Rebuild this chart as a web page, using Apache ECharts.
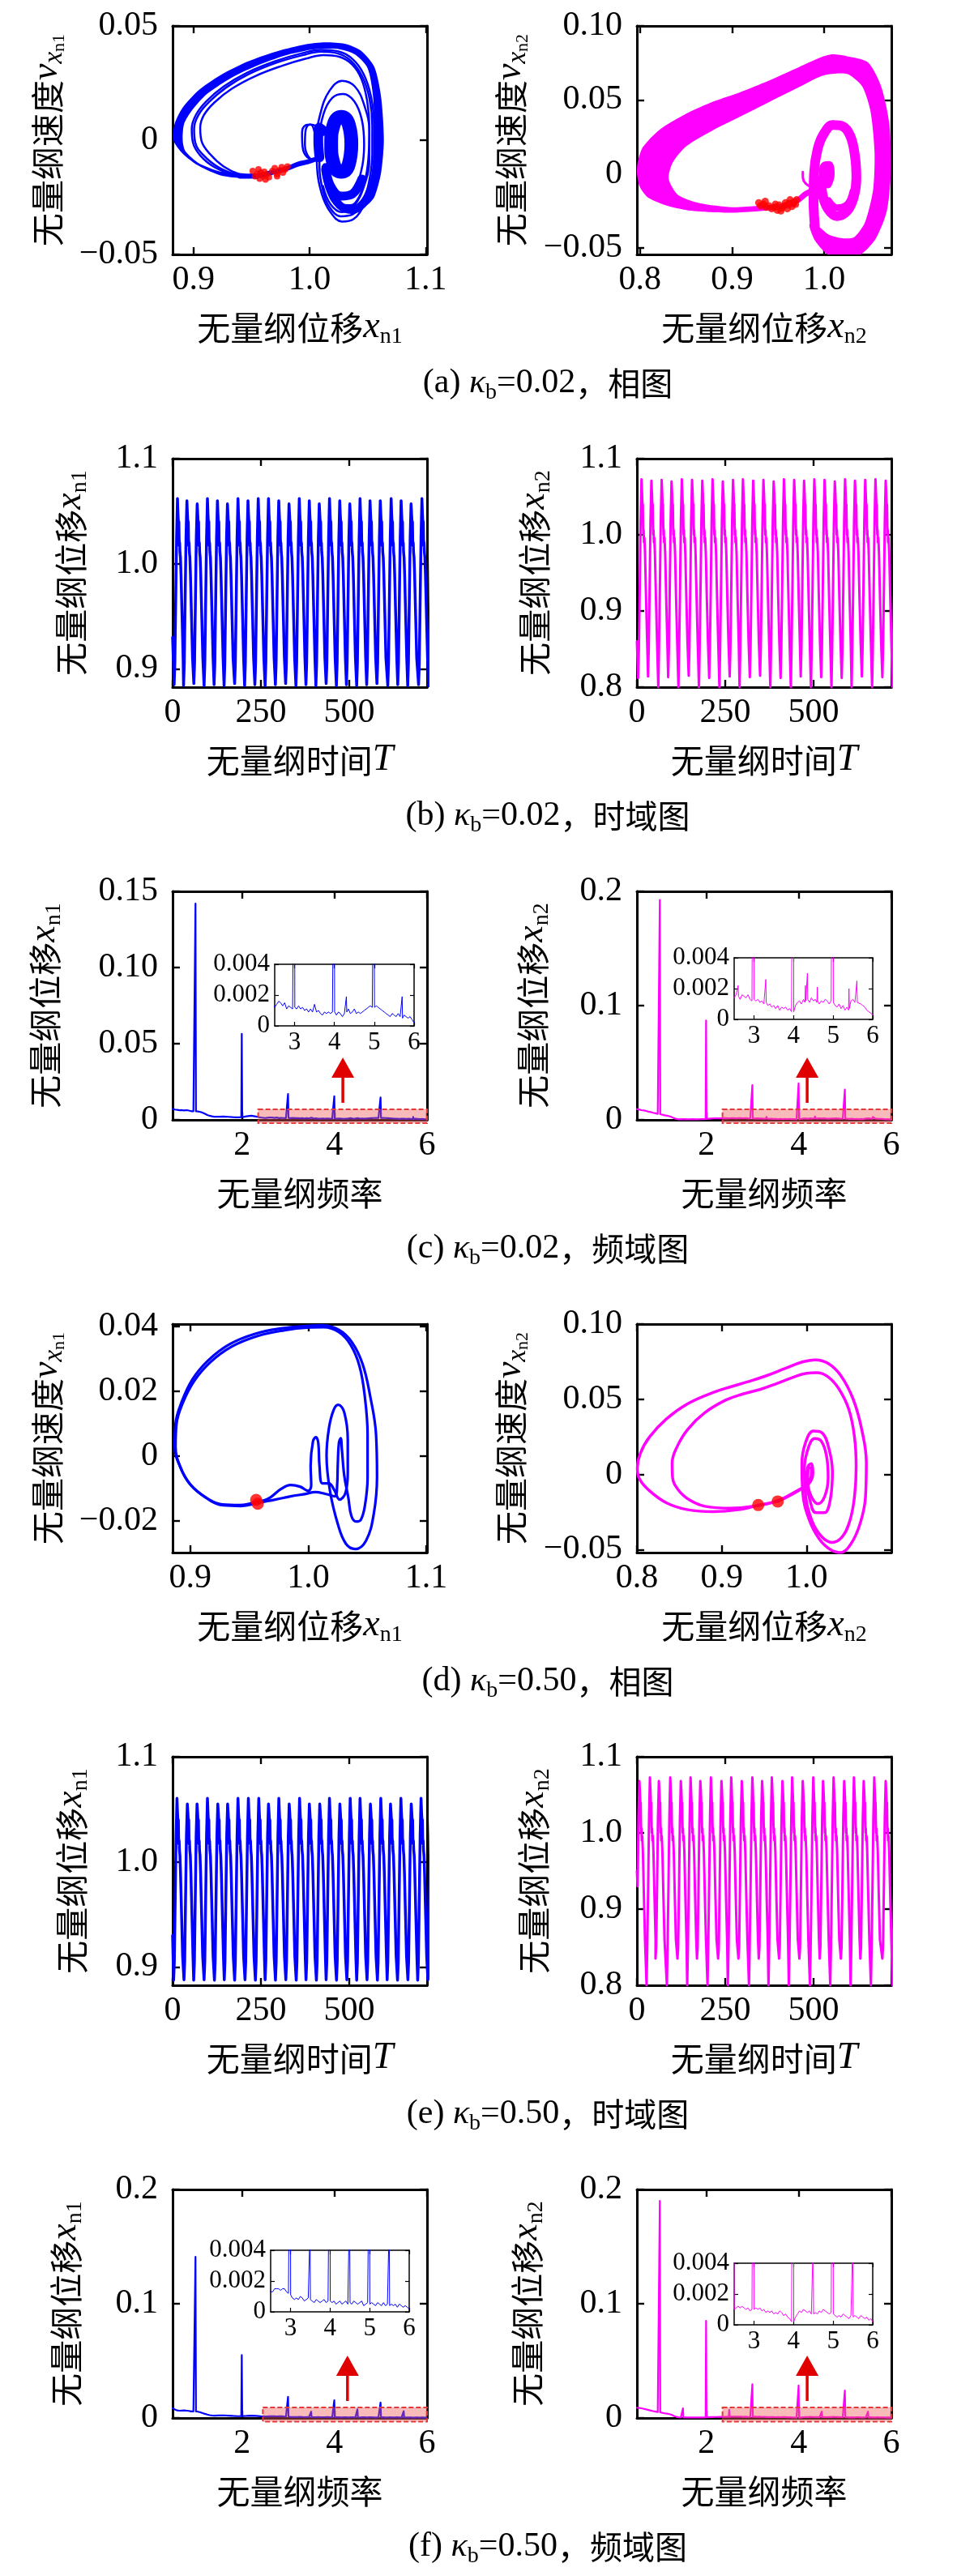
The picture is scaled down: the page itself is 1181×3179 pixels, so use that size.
<!DOCTYPE html>
<html><head><meta charset="utf-8">
<script src="https://cdn.jsdelivr.net/npm/echarts@6.0.0/dist/echarts.min.js"></script>
<style>html,body{margin:0;padding:0;background:#fff}#c{width:1181px;height:3179px}</style>
</head><body><div id="c"></div>
<script>
// ---------------- DATA ----------------
// (a) kb=0.02 phase portrait, x_n1
const a1BandOuter = [[0.9465,-0.0166],[0.9233,-0.0154],[0.9047,-0.0113],[0.8907,-0.0059],[0.8826,0.0],[0.8837,0.0071],[0.8907,0.0143],[0.9047,0.022],[0.9233,0.0285],[0.9465,0.0344],[0.9698,0.0386],[0.993,0.0416],[1.0116,0.0428],[1.0302,0.0422],[1.0442,0.0392],[1.0558,0.0321],[1.0616,0.019],[1.064,0.0],[1.0616,-0.0143],[1.0558,-0.0249],[1.0488,-0.0285]];
const a1BandInner = [[1.0488,-0.0226],[1.054,-0.0143],[1.0558,0.0],[1.0547,0.019],[1.05,0.0315],[1.0395,0.0374],[1.0256,0.0398],[1.0047,0.0398],[0.9814,0.0374],[0.9581,0.0333],[0.9349,0.0279],[0.9116,0.0202],[0.8988,0.0131],[0.8919,0.0071],[0.8907,0.0],[0.893,-0.0048],[0.9047,-0.0101],[0.9233,-0.0137],[0.9465,-0.0148]];
const a1BandEnd = [[1.053,-0.021],[1.046,-0.0278],[1.036,-0.0305],[1.026,-0.0285],[1.018,-0.022],[1.0135,-0.013]];
const a1LowArc = [[1.014,-0.012],[1.018,-0.02],[1.027,-0.0245],[1.037,-0.0235],[1.045,-0.017]];
const a1Tail = [[0.94,-0.0158],[0.955,-0.0155],[0.966,-0.0143],[0.98,-0.0125],[0.99,-0.0105],[0.998,-0.0095],[1.004,-0.0085]];
const a1Small1 = [[1.006,-0.0085],[0.998,-0.0075],[0.994,-0.003],[0.9935,0.003],[0.9965,0.0065],[1.001,0.0068],[1.0045,0.003],[1.006,-0.003],[1.008,-0.008]];
const a1Small2 = [[1.008,-0.009],[1.0,-0.0078],[0.996,-0.002],[0.9965,0.004],[1.0,0.0068],[1.005,0.0062],[1.008,0.001]];
const a1Blob = [[1.0085,-0.0075],[1.0075,0.0],[1.0085,0.0055],[1.012,0.004]];
const a1Ring = [[1.036,-0.0016],[1.0338,0.0068],[1.0273,0.0102],[1.0208,0.0068],[1.0186,-0.0016],[1.0208,-0.0105],[1.0273,-0.0138],[1.0338,-0.0105],[1.036,-0.0016]];
const a1Thin1 = [[0.955,-0.0163],[0.935,-0.0152],[0.918,-0.0118],[0.906,-0.0068],[0.8995,-0.001],[0.8985,0.005],[0.902,0.011],[0.911,0.017],[0.926,0.0235],[0.946,0.0295],[0.97,0.0345],[0.993,0.038],[1.01,0.0395],[1.025,0.0388],[1.037,0.0355],[1.0465,0.029],[1.053,0.019],[1.0555,0.007],[1.0555,-0.006],[1.053,-0.018],[1.047,-0.028],[1.038,-0.0345],[1.028,-0.0356],[1.018,-0.0315],[1.0105,-0.0235],[1.0065,-0.0125],[1.006,0.0],[1.0095,0.012],[1.017,0.0215],[1.028,0.026],[1.039,0.0235],[1.047,0.0155],[1.0515,0.004],[1.0515,-0.0085],[1.047,-0.02],[1.0385,-0.0285],[1.028,-0.0315],[1.018,-0.028],[1.0115,-0.02]];
const a1Thin2 = [[0.955,-0.0165],[0.938,-0.0152],[0.922,-0.012],[0.909,-0.0068],[0.9015,-0.001],[0.9005,0.005],[0.904,0.0108],[0.913,0.0165],[0.928,0.023],[0.948,0.029],[0.972,0.034],[0.994,0.0372],[1.01,0.0387],[1.024,0.038],[1.0355,0.0348],[1.045,0.0283],[1.0515,0.0185],[1.054,0.0065],[1.054,-0.006],[1.0515,-0.0175],[1.046,-0.027],[1.037,-0.0325],[1.027,-0.0333],[1.0175,-0.0295],[1.0115,-0.022],[1.0085,-0.0115],[1.0085,0.0005],[1.012,0.0115],[1.0195,0.0185],[1.029,0.0202],[1.0385,0.017],[1.045,0.009],[1.047,-0.002],[1.0445,-0.0135],[1.0375,-0.022],[1.0275,-0.025]];
const a1Thin3 = [[0.955,-0.0165],[0.94,-0.015],[0.926,-0.0115],[0.9145,-0.0062],[0.907,-0.0005],[0.9058,0.0055],[0.909,0.011],[0.918,0.0165],[0.933,0.0225],[0.953,0.028],[0.976,0.0325],[0.997,0.0357],[1.012,0.0372],[1.0255,0.0365],[1.0365,0.0332],[1.0445,0.027],[1.0495,0.0175],[1.0515,0.006],[1.051,-0.0055],[1.0485,-0.016],[1.043,-0.0245],[1.0355,-0.0285],[1.027,-0.028],[1.0195,-0.0235]];
const a1Red = [[0.951,-0.0135],[0.953,-0.0158],[0.955,-0.0148],[0.957,-0.0168],[0.958,-0.0142],[0.96,-0.0158],[0.962,-0.0172],[0.963,-0.015],[0.965,-0.0162],[0.968,-0.0135],[0.97,-0.0122],[0.972,-0.0148],[0.974,-0.0132],[0.976,-0.0118],[0.977,-0.0142],[0.979,-0.0128],[0.981,-0.0115],[0.956,-0.0128],[0.961,-0.0138],[0.972,-0.0158]];
// (a) x_n2
const a2BandOuter = [[0.97,-0.0215],[0.95,-0.024],[0.928,-0.0252],[0.9,-0.0262],[0.875,-0.0258],[0.8503,-0.0244],[0.83,-0.0216],[0.809,-0.0161],[0.8,-0.009],[0.7968,0.0],[0.7975,0.0077],[0.803,0.018],[0.8209,0.0297],[0.8503,0.0407],[0.8797,0.0489],[0.9091,0.0553],[0.9385,0.0626],[0.9679,0.0708],[0.9974,0.079],[1.0091,0.0808],[1.025,0.0795],[1.0474,0.0755],[1.062,0.059],[1.0709,0.0333],[1.0724,0.0004],[1.068,-0.0253],[1.0562,-0.0436],[1.0415,-0.0537],[1.025,-0.058],[1.005,-0.055],[0.99,-0.045],[0.984,-0.034]];
const a2BandInner = [[0.995,-0.036],[1.005,-0.041],[1.02,-0.0435],[1.0326,-0.0427],[1.0444,-0.0326],[1.0532,-0.0106],[1.0547,0.015],[1.0503,0.0425],[1.0415,0.059],[1.0268,0.0672],[1.015,0.068],[0.9974,0.0662],[0.9679,0.0571],[0.9385,0.048],[0.9091,0.0388],[0.8797,0.0297],[0.8503,0.0187],[0.8356,0.0077],[0.8312,-0.0033],[0.8415,-0.0143],[0.865,-0.0198],[0.9,-0.0225],[0.928,-0.0216],[0.95,-0.0205],[0.97,-0.0185]];
const a2Ring = [[0.99,-0.036],[0.9885,-0.018],[0.989,0.0],[0.993,0.017],[1.0,0.0275],[1.0095,0.033],[1.02,0.0322],[1.0285,0.0255],[1.0335,0.012],[1.035,-0.003],[1.032,-0.016],[1.025,-0.025],[1.014,-0.0285],[1.004,-0.0235],[0.998,-0.013],[0.997,-0.004]];
const a2RingLow = [[1.031,-0.012],[1.025,-0.0205],[1.014,-0.0228],[1.005,-0.018]];
const a2Blob = [[1.0,-0.0075],[0.9985,0.0],[1.0005,0.0055],[1.005,0.006],[1.007,0.0],[1.004,-0.007]];
const a2Tail = [[0.999,-0.0085],[0.99,-0.0105],[0.98,-0.0135],[0.972,-0.0175],[0.96,-0.0205]];
const a2Hook = [[0.9768,0.0013],[0.977,-0.003],[0.98,-0.0065],[0.985,-0.0085]];
const a2Red = [[0.929,-0.0195],[0.931,-0.0215],[0.934,-0.0205],[0.937,-0.0225],[0.94,-0.0215],[0.943,-0.0235],[0.946,-0.0225],[0.949,-0.0245],[0.951,-0.021],[0.954,-0.023],[0.957,-0.0215],[0.96,-0.0235],[0.962,-0.02],[0.965,-0.022],[0.967,-0.019],[0.969,-0.0205],[0.97,-0.0175],[0.958,-0.0195],[0.947,-0.0205],[0.953,-0.025],[0.963,-0.0175],[0.936,-0.0185]];

// (d) kb=0.50 phase portrait
const d1Lap1 = [[0.956,-0.0142],[0.942,-0.0152],[0.927,-0.015],[0.913,-0.0128],[0.9,-0.0088],[0.8915,-0.0035],[0.8868,0.003],[0.8875,0.01],[0.893,0.017],[0.902,0.0238],[0.915,0.0295],[0.933,0.0345],[0.955,0.0378],[0.978,0.0395],[0.998,0.0402],[1.012,0.0404],[1.026,0.039],[1.037,0.0352],[1.046,0.0285],[1.0525,0.0185],[1.0575,0.0065],[1.0583,-0.0065],[1.0555,-0.018],[1.049,-0.0262],[1.04,-0.0288],[1.032,-0.0272],[1.025,-0.021],[1.0185,-0.011],[1.0155,0.0],[1.0175,0.0085],[1.0215,0.0142],[1.0255,0.0158],[1.0305,0.0135],[1.0335,0.005],[1.0335,-0.005],[1.0315,-0.0115],[1.0265,-0.0135],[1.022,-0.0105],[1.0175,-0.0085],[1.012,-0.0085],[1.0095,-0.003],[1.0085,0.004],[1.0065,0.0058],[1.004,0.0045],[1.002,-0.003],[1.0025,-0.009],[1.0,-0.0108],[0.993,-0.0095],[0.985,-0.009],[0.977,-0.0102],[0.968,-0.0128],[0.962,-0.0138],[0.956,-0.0142]];
const d1Lap2 = [[0.957,-0.0145],[0.943,-0.0155],[0.928,-0.0153],[0.914,-0.0131],[0.9005,-0.0091],[0.892,-0.0038],[0.8875,0.0028],[0.8883,0.0098],[0.894,0.0167],[0.9035,0.0233],[0.917,0.029],[0.935,0.0338],[0.957,0.0371],[0.98,0.0389],[0.999,0.0397],[1.013,0.0398],[1.026,0.0383],[1.036,0.0343],[1.0435,0.0277],[1.048,0.0182],[1.0503,0.0065],[1.0503,-0.0065],[1.048,-0.0155],[1.0445,-0.0198],[1.0405,-0.0203],[1.0365,-0.0185],[1.034,-0.013],[1.0305,-0.006],[1.0285,0.002],[1.0275,0.0055],[1.026,0.004],[1.025,-0.003],[1.0245,-0.009],[1.0225,-0.0125],[1.015,-0.0118],[1.006,-0.0112],[0.997,-0.0118],[0.985,-0.0125],[0.972,-0.0135],[0.957,-0.0145]];
const d1Red = [[0.9558,-0.0136],[0.9572,-0.0148]];
const d2Outer = [[0.943,-0.0204],[0.92,-0.0235],[0.89,-0.0248],[0.86,-0.0235],[0.835,-0.019],[0.815,-0.011],[0.803,-0.003],[0.8005,0.004],[0.804,0.014],[0.815,0.025],[0.835,0.037],[0.86,0.047],[0.89,0.0545],[0.912,0.0585],[0.93,0.0615],[0.952,0.0655],[0.975,0.0705],[0.995,0.0748],[1.01,0.0762],[1.025,0.074],[1.04,0.066],[1.055,0.05],[1.065,0.03],[1.0705,0.008],[1.0695,-0.015],[1.063,-0.033],[1.052,-0.0465],[1.04,-0.052],[1.028,-0.05],[1.015,-0.043],[1.003,-0.03],[0.9955,-0.012],[0.9945,0.007],[0.999,0.0215],[1.008,0.0288],[1.018,0.0278],[1.026,0.018],[1.0305,0.002],[1.0285,-0.015],[1.021,-0.0255],[1.011,-0.0255],[1.0035,-0.016],[1.0,-0.004],[1.0015,0.005],[1.0055,0.0072],[1.0075,0.001],[1.003,-0.006],[0.99,-0.0105],[0.975,-0.0152],[0.96,-0.0185],[0.943,-0.0204]];
const d2Inner = [[0.966,-0.018],[0.94,-0.021],[0.91,-0.0225],[0.88,-0.0212],[0.862,-0.017],[0.849,-0.0105],[0.842,-0.002],[0.8415,0.0075],[0.847,0.018],[0.86,0.03],[0.88,0.041],[0.905,0.0495],[0.925,0.0535],[0.945,0.0565],[0.965,0.0605],[0.985,0.0648],[1.0,0.0672],[1.012,0.0676],[1.025,0.065],[1.038,0.057],[1.05,0.043],[1.0565,0.025],[1.0585,0.005],[1.0565,-0.015],[1.051,-0.031],[1.042,-0.0415],[1.03,-0.0452],[1.018,-0.0415],[1.0065,-0.031],[0.999,-0.0145],[0.9975,0.004],[1.002,0.0175],[1.0095,0.0238],[1.0175,0.022],[1.0235,0.0125],[1.0255,-0.002],[1.0215,-0.0145],[1.0135,-0.0195],[1.0055,-0.0145],[1.0015,-0.005],[1.003,0.0045],[1.006,0.0045],[1.0045,-0.0035],[0.9955,-0.009],[0.981,-0.0138],[0.966,-0.018]];
const d2Red = [[0.943,-0.0204],[0.966,-0.018]];

// time-domain records (peak times, peak values, trough before each peak)
const b1PeakT = [13.8,40.5,69.6,98.6,126.9,155.2,185,213.3,242.3,271.3,300.4,329.4,358.5,386.8,415,444,473,501.4,530.4,558.7,587.7,618.4,646.6,674.8,705.5,734];
const b1Peak = [1.062,1.060,1.057,1.062,1.060,1.057,1.062,1.060,1.062,1.062,1.060,1.057,1.062,1.060,1.057,1.062,1.060,1.057,1.062,1.060,1.060,1.062,1.060,1.057,1.062,1.060];
const b1Trough = [0.885,0.884,0.886,0.884,0.885,0.884,0.886,0.884,0.885,0.884,0.885,0.886,0.884,0.885,0.884,0.886,0.884,0.885,0.884,0.885,0.886,0.884,0.885,0.884,0.885,0.884];
const b2PeakT = [13,41,70,98,127,156,185,214,243,272,300,329,358,387,416,445,473,502,531,560,589,617,646,675,704,733];
const b2Peak = [1.073,1.071,1.072,1.070,1.073,1.072,1.071,1.073,1.070,1.072,1.073,1.071,1.072,1.070,1.073,1.072,1.071,1.073,1.072,1.070,1.073,1.071,1.072,1.073,1.071,1.072];
const b2Trough = [0.812,0.814,0.800,0.813,0.800,0.815,0.800,0.812,0.800,0.814,0.800,0.813,0.815,0.800,0.812,0.800,0.814,0.800,0.813,0.800,0.812,0.800,0.814,0.800,0.813,0.800];
const e1PeakT = [12.4,41.7,69.2,98.6,127.9,155.7,185,214.4,243.8,271.3,300.6,329.9,359.3,387,416.4,443.9,473.3,502.6,530.4,559.7,589.1,616.6,646,675.3,703,732];
const e1Peak = [1.0605,1.055,1.055,1.0605,1.055,1.055,1.0605,1.0605,1.0605,1.055,1.0605,1.055,1.0605,1.055,1.055,1.0605,1.055,1.0605,1.0605,1.055,1.0605,1.055,1.0605,1.055,1.0605,1.055];
const e1Trough = [0.8875,0.8878,0.8875,0.8878,0.8875,0.8878,0.8875,0.8878,0.8875,0.8878,0.8875,0.8878,0.8875,0.8878,0.8875,0.8878,0.8875,0.8878,0.8875,0.8878,0.8875,0.8878,0.8875,0.8878,0.8875,0.8878];
const e2PeakT = [6.9,36.8,62.1,94.3,124.2,151.8,179.4,209.3,239.2,266.8,296.7,326.6,354.2,381.8,411.7,439.3,469.2,499.1,526.7,556.6,586.5,614.1,641.7,671.6,703.9,733];
const e2Peak = [1.068,1.073,1.068,1.073,1.068,1.073,1.068,1.073,1.068,1.073,1.068,1.073,1.068,1.073,1.068,1.073,1.068,1.073,1.068,1.073,1.068,1.073,1.068,1.073,1.068,1.073];
const e2Trough = [0.835,0.800,0.835,0.800,0.835,0.800,0.835,0.800,0.835,0.800,0.835,0.800,0.835,0.800,0.835,0.800,0.835,0.800,0.835,0.800,0.835,0.800,0.835,0.800,0.835,0.800];
// one cycle's shape read from the record: [time after peak, value] and [time before next peak, value]
const blueAfterPeak = [[1.5,1.047],[3.2,1.036],[3.9,1.04],[4.7,1.022],[5.4,1.017],[6.1,1.02],[7.0,1.011],[8.4,1.006],[10,0.99],[13,0.95],[16,0.91]];
const blueBeforePeak = [[-7.5,0.905],[-5,0.965],[-2.5,1.025]];
const magAfterPeak = [[1.5,1.055],[3.0,1.035],[3.7,1.04],[4.5,1.012],[5.3,1.0],[6.0,1.006],[7.0,0.99],[8.2,0.996],[10,0.975],[13,0.915],[16,0.86]];
const magBeforePeak = [[-7.5,0.85],[-5,0.93],[-2.5,1.02]];
const troughLead = -9.5;
const b1Start = 0.93, b2Start = 0.86, e1Start = 0.93, e2Start = 0.95;

// amplitude spectra [frequency, amplitude]
const c1Spec = [[0.5,0.0072],[0.55,0.0068],[0.6,0.0066],[0.65,0.0063],[0.7,0.0064],[0.75,0.0062],[0.8,0.0064],[0.85,0.0061],[0.9,0.0057],[0.95,0.0056],[0.985,0.0056],[0.995,0.142],[1.005,0.0056],[1.05,0.0055],[1.1,0.0052],[1.15,0.0047],[1.2,0.004],[1.25,0.0032],[1.3,0.0027],[1.35,0.0023],[1.4,0.0021],[1.5,0.0021],[1.6,0.0022],[1.7,0.002],[1.8,0.0018],[1.9,0.0017],[1.985,0.0018],[1.995,0.0565],[2.005,0.0018],[2.1,0.0023],[2.2,0.0027],[2.3,0.0022],[2.4,0.0016],[2.5,0.0012],[2.55,0.0014],[2.6,0.0016],[2.65,0.0015],[2.7,0.0013],[2.75,0.0015],[2.8,0.0011],[2.85,0.0013],[2.9,0.0012],[2.95,0.0011],[2.985,0.0012],[2.995,0.017],[3.005,0.0012],[3.05,0.0011],[3.1,0.0013],[3.15,0.0011],[3.2,0.0012],[3.25,0.001],[3.3,0.0011],[3.35,0.0009],[3.4,0.0011],[3.45,0.0009],[3.5,0.0014],[3.55,0.0009],[3.6,0.001],[3.65,0.0008],[3.7,0.0007],[3.75,0.0009],[3.8,0.0008],[3.85,0.0009],[3.9,0.0008],[3.95,0.0009],[3.985,0.0009],[3.995,0.0155],[4.005,0.0009],[4.05,0.0007],[4.1,0.0009],[4.15,0.0008],[4.2,0.0006],[4.25,0.0008],[4.29,0.0009],[4.3,0.0019],[4.31,0.0009],[4.35,0.0011],[4.4,0.0008],[4.45,0.0009],[4.5,0.0011],[4.55,0.0008],[4.6,0.0009],[4.65,0.0008],[4.7,0.0009],[4.75,0.001],[4.8,0.0011],[4.85,0.0012],[4.9,0.0013],[4.95,0.0012],[4.985,0.0011],[4.995,0.0147],[5.005,0.0012],[5.05,0.0013],[5.1,0.0012],[5.15,0.0011],[5.2,0.001],[5.25,0.0009],[5.3,0.0008],[5.35,0.0007],[5.4,0.0006],[5.45,0.0008],[5.5,0.0007],[5.55,0.0006],[5.6,0.0008],[5.65,0.0006],[5.69,0.0005],[5.7,0.0019],[5.71,0.0005],[5.75,0.0007],[5.8,0.0006],[5.85,0.0005],[5.9,0.0006],[5.95,0.0004],[6.0,0.0002]];
const c2Spec = [[0.5,0.0095],[0.55,0.009],[0.6,0.0085],[0.65,0.0082],[0.7,0.0078],[0.75,0.0072],[0.8,0.0068],[0.85,0.0062],[0.9,0.0058],[0.95,0.0052],[0.985,0.005],[0.995,0.1925],[1.005,0.005],[1.05,0.0045],[1.1,0.004],[1.15,0.0036],[1.2,0.0032],[1.25,0.0025],[1.3,0.0015],[1.35,0.0008],[1.4,0.0005],[1.5,0.0006],[1.6,0.0005],[1.7,0.0006],[1.8,0.0005],[1.9,0.0006],[1.985,0.0006],[1.995,0.087],[2.005,0.0008],[2.1,0.0012],[2.2,0.0014],[2.3,0.0013],[2.4,0.0015],[2.5,0.0014],[2.55,0.0016],[2.59,0.0015],[2.6,0.0022],[2.61,0.0015],[2.65,0.0013],[2.7,0.0016],[2.75,0.0015],[2.8,0.0014],[2.85,0.0016],[2.9,0.0013],[2.95,0.0012],[2.985,0.0013],[2.995,0.0305],[3.005,0.0013],[3.05,0.0012],[3.1,0.0013],[3.15,0.0011],[3.2,0.0012],[3.25,0.001],[3.29,0.0011],[3.3,0.0026],[3.31,0.0011],[3.35,0.0009],[3.4,0.001],[3.45,0.0008],[3.5,0.0009],[3.55,0.0007],[3.6,0.0009],[3.65,0.0006],[3.7,0.0008],[3.75,0.0007],[3.8,0.0008],[3.85,0.0006],[3.9,0.0007],[3.95,0.0005],[3.985,0.0004],[3.995,0.032],[4.005,0.0005],[4.05,0.0009],[4.1,0.0011],[4.15,0.0012],[4.2,0.001],[4.25,0.0013],[4.29,0.0011],[4.3,0.0022],[4.31,0.0012],[4.34,0.0013],[4.35,0.003],[4.36,0.0013],[4.4,0.0011],[4.45,0.0014],[4.5,0.0012],[4.55,0.0013],[4.59,0.0011],[4.6,0.0021],[4.61,0.0012],[4.65,0.001],[4.7,0.0012],[4.75,0.0011],[4.8,0.0013],[4.85,0.0012],[4.9,0.001],[4.95,0.0012],[4.985,0.0011],[4.995,0.0265],[5.005,0.0011],[5.05,0.0009],[5.1,0.0008],[5.15,0.001],[5.2,0.0007],[5.25,0.0009],[5.3,0.0006],[5.35,0.0008],[5.39,0.0006],[5.4,0.002],[5.41,0.0007],[5.45,0.0012],[5.5,0.0013],[5.55,0.0011],[5.59,0.001],[5.6,0.0025],[5.61,0.0011],[5.65,0.0012],[5.7,0.001],[5.75,0.0009],[5.8,0.0008],[5.85,0.0006],[5.9,0.0005],[5.95,0.0004],[6.0,0.0003]];
const f1Spec = [[0.5,0.0085],[0.55,0.0075],[0.6,0.0066],[0.65,0.0064],[0.7,0.0065],[0.75,0.0066],[0.8,0.0064],[0.85,0.0062],[0.9,0.0058],[0.95,0.0057],[0.985,0.0057],[0.995,0.141],[1.005,0.0057],[1.05,0.0055],[1.1,0.005],[1.15,0.0043],[1.2,0.0036],[1.25,0.003],[1.3,0.0025],[1.35,0.0022],[1.4,0.0021],[1.5,0.0022],[1.6,0.0023],[1.7,0.0021],[1.8,0.0018],[1.9,0.0016],[1.985,0.0016],[1.995,0.055],[2.005,0.0017],[2.1,0.0018],[2.2,0.002],[2.3,0.0018],[2.4,0.0015],[2.5,0.0013],[2.55,0.0013],[2.6,0.0015],[2.65,0.0015],[2.7,0.0015],[2.75,0.0014],[2.8,0.0015],[2.85,0.0015],[2.9,0.0013],[2.95,0.0012],[2.985,0.0012],[2.995,0.0185],[3.005,0.0011],[3.05,0.0009],[3.1,0.0008],[3.15,0.0009],[3.2,0.0008],[3.25,0.001],[3.3,0.0009],[3.35,0.0007],[3.4,0.0008],[3.45,0.0009],[3.485,0.0008],[3.495,0.0055],[3.505,0.0008],[3.55,0.0007],[3.6,0.0006],[3.65,0.0008],[3.7,0.0007],[3.75,0.0006],[3.8,0.0007],[3.85,0.0008],[3.9,0.0006],[3.95,0.0007],[3.985,0.0007],[3.995,0.0155],[4.005,0.0007],[4.05,0.0006],[4.1,0.0007],[4.15,0.0005],[4.2,0.0006],[4.25,0.0007],[4.3,0.0005],[4.35,0.0006],[4.4,0.0007],[4.45,0.0005],[4.485,0.0006],[4.495,0.0075],[4.505,0.0006],[4.55,0.0005],[4.6,0.0007],[4.65,0.0006],[4.7,0.0005],[4.75,0.0006],[4.8,0.0007],[4.85,0.0004],[4.9,0.0005],[4.95,0.0006],[4.985,0.0005],[4.995,0.0135],[5.005,0.0005],[5.05,0.0006],[5.1,0.0005],[5.15,0.0004],[5.2,0.0006],[5.25,0.0005],[5.3,0.0004],[5.35,0.0006],[5.4,0.0004],[5.45,0.0005],[5.485,0.0004],[5.495,0.006],[5.505,0.0004],[5.55,0.0005],[5.6,0.0004],[5.65,0.0005],[5.7,0.0003],[5.75,0.0005],[5.8,0.0004],[5.85,0.0003],[5.9,0.0004],[5.95,0.0003],[6.0,0.0002]];
const f2Spec = [[0.5,0.009],[0.55,0.0088],[0.6,0.0085],[0.65,0.008],[0.7,0.0075],[0.75,0.007],[0.8,0.0065],[0.85,0.006],[0.9,0.0056],[0.95,0.0052],[0.985,0.005],[0.995,0.19],[1.005,0.005],[1.05,0.0045],[1.1,0.0041],[1.15,0.0038],[1.2,0.0034],[1.25,0.0028],[1.3,0.0018],[1.35,0.001],[1.4,0.0006],[1.45,0.0005],[1.485,0.0005],[1.495,0.0085],[1.505,0.0005],[1.55,0.0004],[1.6,0.0005],[1.7,0.0004],[1.8,0.0005],[1.9,0.0004],[1.985,0.0005],[1.995,0.085],[2.005,0.0006],[2.1,0.0008],[2.2,0.0009],[2.3,0.001],[2.4,0.001],[2.485,0.001],[2.495,0.007],[2.505,0.001],[2.55,0.0011],[2.6,0.0012],[2.65,0.0011],[2.7,0.0012],[2.75,0.0011],[2.8,0.001],[2.85,0.0011],[2.9,0.0009],[2.95,0.001],[2.985,0.001],[2.995,0.0295],[3.005,0.001],[3.05,0.0011],[3.1,0.001],[3.15,0.0011],[3.2,0.0009],[3.25,0.001],[3.3,0.0008],[3.35,0.0009],[3.4,0.0008],[3.45,0.0009],[3.5,0.0007],[3.55,0.0008],[3.6,0.0007],[3.65,0.0009],[3.7,0.0008],[3.75,0.0006],[3.8,0.0007],[3.85,0.0005],[3.9,0.0004],[3.95,0.0002],[3.985,0.0001],[3.995,0.0285],[4.005,0.0002],[4.05,0.0005],[4.1,0.0007],[4.15,0.0009],[4.2,0.0008],[4.25,0.001],[4.3,0.0009],[4.35,0.0008],[4.4,0.0009],[4.45,0.0007],[4.485,0.0007],[4.495,0.0055],[4.505,0.0007],[4.55,0.0008],[4.6,0.0007],[4.65,0.0009],[4.7,0.0008],[4.75,0.001],[4.8,0.0009],[4.85,0.0008],[4.9,0.0007],[4.95,0.0008],[4.985,0.0007],[4.995,0.024],[5.005,0.0007],[5.05,0.0006],[5.1,0.0005],[5.15,0.0006],[5.2,0.0005],[5.25,0.0007],[5.3,0.0006],[5.35,0.0005],[5.4,0.0004],[5.45,0.0006],[5.485,0.0005],[5.495,0.0055],[5.505,0.0005],[5.55,0.0006],[5.6,0.0005],[5.65,0.0004],[5.7,0.0006],[5.75,0.0005],[5.8,0.0004],[5.85,0.0005],[5.9,0.0003],[5.95,0.0004],[6.0,0.0002]];

// axis ticks and labels
const ticksA1x = [0.9,1.0,1.1], labA1x = ['0.9','1.0','1.1'];
const ticksA1y = [-0.05,0,0.05], labA1y = ['\u22120.05','0','0.05'];
const ticksA2x = [0.8,0.9,1.0], labA2x = ['0.8','0.9','1.0'];
const ticksA2y = [-0.05,0,0.05,0.10], labA2y = ['\u22120.05','0','0.05','0.10'];
const ticksT = [0,250,500], labT = ['0','250','500'];
const ticksB1y = [0.9,1.0,1.1], labB1y = ['0.9','1.0','1.1'];
const ticksB2y = [0.8,0.9,1.0,1.1], labB2y = ['0.8','0.9','1.0','1.1'];
const ticksF = [2,4,6], labF = ['2','4','6'];
const ticksC1y = [0,0.05,0.10,0.15], labC1y = ['0','0.05','0.10','0.15'];
const ticksC2y = [0,0.1,0.2], labC2y = ['0','0.1','0.2'];
const ticksD1x = [0.9,1.0,1.1], labD1x = ['0.9','1.0','1.1'];
const ticksD1y = [-0.02,0,0.02,0.04], labD1y = ['\u22120.02','0','0.02','0.04'];
const ticksD2x = [0.8,0.9,1.0], labD2x = ['0.8','0.9','1.0'];
const ticksD2y = [-0.05,0,0.05,0.10], labD2y = ['\u22120.05','0','0.05','0.10'];
const ticksInX = [3,4,5,6], labInX = ['3','4','5','6'];
const ticksInY = [0,0.002,0.004], labInY = ['0','0.002','0.004'];

const captions = ['(a) ','(b) ','(c) ','(d) ','(e) ','(f) '];
const captionK = ['=0.02','=0.02','=0.02','=0.50','=0.50','=0.50'];
const captionKind = ['，相图','，时域图','，频域图','，相图','，时域图','，频域图'];

// ---------------- BUILD ----------------
const SERIF = 'Liberation Serif, Times New Roman, serif';
const CJK = 'Noto Sans CJK SC';
const BLUE = '#0000ff', MAG = '#ff00ff', RED = '#ff0000';
const ROW_TOP = [32,566,1100,1634,2168,2702];
const BOX_H = 282, BOX_W = 314, LEFT_X = 213, RIGHT_X = 786;

function buildTS(peakT, peakV, troughV, startV, after, before) {
  const out = [[0, startV]];
  for (let i = 0; i < peakT.length; i++) {
    out.push([peakT[i] + troughLead, troughV[i]]);
    before.forEach(p => out.push([peakT[i] + p[0], p[1]]));
    out.push([peakT[i], peakV[i]]);
    if (i < peakT.length - 1) after.forEach(p => out.push([peakT[i] + p[0], p[1]]));
  }
  return out.filter(p => p[0] >= 0);
}

const grids = [], xAxes = [], yAxes = [], series = [], graphics = [];
function fmt(ticks, labels) {
  return v => { const i = ticks.findIndex(t => Math.abs(t - v) < 1e-9); return i < 0 ? '' : labels[i]; };
}
function addPanel(p) {
  const gi = grids.length;
  grids.push({left: p.left, top: p.top, width: p.w, height: p.h, show: !!p.inset,
    backgroundColor: '#fff', borderWidth: 0, z: p.inset ? 5 : 0});
  const lw = p.inset ? 1.5 : 3, tl = p.inset ? 5 : 9, fs = p.inset ? 31 : 42;
  const mk = (pos, ticks, labels, show, min, max, margin) => ({
    type: 'value', gridIndex: gi, position: pos, min: min, max: max, z: p.inset ? 6 : 1,
    axisLine: {show: true, onZero: false, lineStyle: {color: '#000', width: lw}},
    axisTick: {show: true, inside: true, length: tl, customValues: ticks, lineStyle: {color: '#000', width: lw * 0.8}},
    axisLabel: {show: show, customValues: ticks, formatter: fmt(ticks, labels), fontSize: fs,
      fontFamily: SERIF, color: '#000', margin: margin},
    splitLine: {show: false}
  });
  const xi = xAxes.length, yi = yAxes.length;
  xAxes.push(mk('bottom', p.xt, p.xl, true, p.x[0], p.x[1], p.inset ? 5 : 11));
  xAxes.push(mk('top', p.xt, p.xl, false, p.x[0], p.x[1], 8));
  yAxes.push(mk('left', p.yt, p.yl, true, p.y[0], p.y[1], p.inset ? 6 : 18));
  yAxes.push(mk('right', p.yt, p.yl, false, p.y[0], p.y[1], 8));
  return {xi, yi};
}
function line(ax, data, color, width, smooth, z) {
  series.push({type: 'line', xAxisIndex: ax.xi, yAxisIndex: ax.yi, data: data, showSymbol: false,
    smooth: smooth, clip: true, z: z || 2, silent: true,
    lineStyle: {color: color, width: width, cap: 'round', join: 'round'}});
}
// filled band between a read outer edge and a read inner edge of a dense trajectory bundle
function band(ax, outer, inner, color) {
  const pts = outer.concat(inner);
  series.push({type: 'custom', xAxisIndex: ax.xi, yAxisIndex: ax.yi, clip: true, z: 2, silent: true,
    data: [pts[0]], renderItem: (params, api) => ({type: 'polygon',
      shape: {points: pts.map(p => api.coord(p)), smooth: 0.25}, style: {fill: color}})});
}
function dots(ax, data, size) {
  series.push({type: 'scatter', xAxisIndex: ax.xi, yAxisIndex: ax.yi, data: data, symbolSize: size,
    itemStyle: {color: RED}, z: 4, silent: true});
}
function zoomMark(ax, rect, arrow) {
  series.push({type: 'custom', xAxisIndex: ax.xi, yAxisIndex: ax.yi, clip: false, z: 3, silent: true,
    data: [rect], renderItem: (params, api) => {
      const a = api.coord([api.value(0), api.value(3)]), b = api.coord([api.value(2), api.value(1)]);
      return {type: 'rect', shape: {x: a[0], y: a[1], width: b[0] - a[0], height: b[1] - a[1]},
        style: {fill: 'rgba(240,90,90,0.42)', stroke: '#e23a3a', lineWidth: 2, lineDash: [6, 3]}};
    }});
  series.push({type: 'custom', xAxisIndex: ax.xi, yAxisIndex: ax.yi, clip: false, z: 3, silent: true,
    data: [arrow], renderItem: (params, api) => {
      const a = api.coord([api.value(0), api.value(1)]), b = api.coord([api.value(0), api.value(2)]);
      const hw = 14, hh = 25;
      return {type: 'group', children: [
        {type: 'line', shape: {x1: a[0], y1: a[1], x2: b[0], y2: b[1] + hh - 2}, style: {stroke: '#e00000', lineWidth: 3.5}},
        {type: 'polygon', shape: {points: [[b[0], b[1]], [b[0] - hw, b[1] + hh], [b[0] + hw, b[1] + hh]]}, style: {fill: '#e00000'}}
      ]};
    }});
}

const main = (row, col, x, xt, xl, y, yt, yl) => addPanel({left: col ? RIGHT_X : LEFT_X, top: ROW_TOP[row], w: BOX_W, h: BOX_H, x, xt, xl, y, yt, yl});

// Row a
let ax = main(0, 0, [0.882, 1.1012], ticksA1x, labA1x, [-0.05, 0.05], ticksA1y, labA1y);
line(ax, a1Thin1, BLUE, 2.5, 0.4); line(ax, a1Thin2, BLUE, 2.5, 0.4); line(ax, a1Thin3, BLUE, 2.5, 0.4);
band(ax, a1BandOuter, a1BandInner, BLUE);
line(ax, a1BandEnd, BLUE, 10, 0.4); line(ax, a1LowArc, BLUE, 11, 0.4);
line(ax, a1Tail, BLUE, 6, 0.4); line(ax, a1Small1, BLUE, 2.5, 0.4); line(ax, a1Small2, BLUE, 2.5, 0.4);
line(ax, a1Blob, BLUE, 12, 0.4); line(ax, a1Ring, BLUE, 17, 0.5);
dots(ax, a1Red, 8);
ax = main(0, 1, [0.7967, 1.073], ticksA2x, labA2x, [-0.0544, 0.1], ticksA2y, labA2y);
band(ax, a2BandOuter, a2BandInner, MAG);
line(ax, a2Ring, MAG, 12, 0.4); line(ax, a2RingLow, MAG, 8, 0.4);
line(ax, a2Blob, MAG, 10, 0.4); line(ax, a2Tail, MAG, 7, 0.4); line(ax, a2Hook, MAG, 3, 0.4);
dots(ax, a2Red, 9);
// Row b
ax = main(1, 0, [0, 720], ticksT, labT, [0.8826, 1.1], ticksB1y, labB1y);
line(ax, buildTS(b1PeakT, b1Peak, b1Trough, b1Start, blueAfterPeak, blueBeforePeak), BLUE, 3.5, false);
ax = main(1, 1, [0, 720], ticksT, labT, [0.8, 1.1], ticksB2y, labB2y);
line(ax, buildTS(b2PeakT, b2Peak, b2Trough, b2Start, magAfterPeak, magBeforePeak), MAG, 3, false);
// Row c
ax = main(2, 0, [0.5, 6], ticksF, labF, [0, 0.15], ticksC1y, labC1y);
line(ax, c1Spec, BLUE, 2.2, false); zoomMark(ax, [2.35, -0.0021, 6.0, 0.0069], [4.18, 0.0112, 0.041]);
ax = addPanel({inset: true, left: 339, top: 1190, w: 172, h: 76, x: [2.5, 6], xt: ticksInX, xl: labInX, y: [0, 0.004], yt: ticksInY, yl: labInY});
line(ax, c1Spec, BLUE, 1, false, 7);
ax = main(2, 1, [0.5, 6], ticksF, labF, [0, 0.2], ticksC2y, labC2y);
line(ax, c2Spec, MAG, 2.2, false); zoomMark(ax, [2.35, -0.0028, 6.0, 0.0092], [4.18, 0.0149, 0.0546]);
ax = addPanel({inset: true, left: 906, top: 1182, w: 171, h: 76, x: [2.5, 6], xt: ticksInX, xl: labInX, y: [0, 0.004], yt: ticksInY, yl: labInY});
line(ax, c2Spec, MAG, 1, false, 7);
// Row d
ax = main(3, 0, [0.885, 1.1007], ticksD1x, labD1x, [-0.0299, 0.0408], ticksD1y, labD1y);
line(ax, d1Lap1, BLUE, 3.2, 0.4); line(ax, d1Lap2, BLUE, 3.2, 0.4);
dots(ax, d1Red, 15);
ax = main(3, 1, [0.8, 1.1], ticksD2x, labD2x, [-0.052, 0.1], ticksD2y, labD2y);
line(ax, d2Outer, MAG, 3.5, 0.4); line(ax, d2Inner, MAG, 3.5, 0.4);
dots(ax, d2Red, 15);
// Row e
ax = main(4, 0, [0, 720], ticksT, labT, [0.8826, 1.1], ticksB1y, labB1y);
line(ax, buildTS(e1PeakT, e1Peak, e1Trough, e1Start, blueAfterPeak, blueBeforePeak), BLUE, 3.5, false);
ax = main(4, 1, [0, 720], ticksT, labT, [0.8, 1.1], ticksB2y, labB2y);
line(ax, buildTS(e2PeakT, e2Peak, e2Trough, e2Start, magAfterPeak, magBeforePeak), MAG, 3, false);
// Row f
ax = main(5, 0, [0.5, 6], ticksF, labF, [0, 0.2], ticksC2y, labC2y);
line(ax, f1Spec, BLUE, 2.2, false); zoomMark(ax, [2.45, -0.0032, 6.0, 0.0092], [4.28, 0.0149, 0.0546]);
ax = addPanel({inset: true, left: 334, top: 2777, w: 171, h: 76, x: [2.5, 6], xt: ticksInX, xl: labInX, y: [0, 0.004], yt: ticksInY, yl: labInY});
line(ax, f1Spec, BLUE, 1, false, 7);
ax = main(5, 1, [0.5, 6], ticksF, labF, [0, 0.2], ticksC2y, labC2y);
line(ax, f2Spec, MAG, 2.2, false); zoomMark(ax, [2.35, -0.0032, 6.0, 0.0092], [4.18, 0.0149, 0.0546]);
ax = addPanel({inset: true, left: 906, top: 2793, w: 171, h: 76, x: [2.5, 6], xt: ticksInX, xl: labInX, y: [0, 0.004], yt: ticksInY, yl: labInY});
line(ax, f2Spec, MAG, 1, false, 7);

// ---------------- TEXT ----------------
const rich = {
  c: {fontFamily: CJK, fontSize: 41, lineHeight: 52, fill: '#000', color: '#000'},
  i: {fontFamily: SERIF, fontStyle: 'italic', fontSize: 46, lineHeight: 52, fill: '#000', color: '#000'},
  s: {fontFamily: SERIF, fontSize: 28, lineHeight: 20, verticalAlign: 'bottom', fill: '#000', color: '#000'},
  si: {fontFamily: SERIF, fontStyle: 'italic', fontSize: 33, lineHeight: 30, verticalAlign: 'bottom', fill: '#000', color: '#000'},
  ss: {fontFamily: SERIF, fontSize: 22, lineHeight: 8, verticalAlign: 'bottom', fill: '#000', color: '#000'},
  p: {fontFamily: SERIF, fontSize: 42, lineHeight: 52, fill: '#000', color: '#000'},
  k: {fontFamily: SERIF, fontStyle: 'italic', fontSize: 42, lineHeight: 52, fill: '#000', color: '#000'},
  cc: {fontFamily: CJK, fontSize: 40, lineHeight: 52, fill: '#000', color: '#000'}
};
function txt(x, y, text, rot) {
  graphics.push({type: 'text', x: x, y: y, rotation: rot || 0, z: 100,
    style: {text: text, rich: rich, align: 'center', verticalAlign: 'middle', fill: '#000'}});
}
const xNameRows = [
  ['{c|无量纲位移}{i|x}{s|n1}', '{c|无量纲位移}{i|x}{s|n2}'],
  ['{c|无量纲时间}{i|T}', '{c|无量纲时间}{i|T}'],
  ['{c|无量纲频率}', '{c|无量纲频率}'],
  ['{c|无量纲位移}{i|x}{s|n1}', '{c|无量纲位移}{i|x}{s|n2}'],
  ['{c|无量纲时间}{i|T}', '{c|无量纲时间}{i|T}'],
  ['{c|无量纲频率}', '{c|无量纲频率}']
];
const yNameRows = [
  ['{c|无量纲速度}{i|v}{si|x}{ss|n1}', '{c|无量纲速度}{i|v}{si|x}{ss|n2}'],
  ['{c|无量纲位移}{i|x}{s|n1}', '{c|无量纲位移}{i|x}{s|n2}'],
  ['{c|无量纲位移}{i|x}{s|n1}', '{c|无量纲位移}{i|x}{s|n2}'],
  ['{c|无量纲速度}{i|v}{si|x}{ss|n1}', '{c|无量纲速度}{i|v}{si|x}{ss|n2}'],
  ['{c|无量纲位移}{i|x}{s|n1}', '{c|无量纲位移}{i|x}{s|n2}'],
  ['{c|无量纲位移}{i|x}{s|n1}', '{c|无量纲位移}{i|x}{s|n2}']
];
const yNameX = [[58, 630], [87, 659], [55, 657], [58, 630], [88, 658], [81, 650]];
for (let r = 0; r < 6; r++) {
  const top = ROW_TOP[r];
  for (let c = 0; c < 2; c++) {
    const left = c ? RIGHT_X : LEFT_X;
    txt(left + BOX_W / 2, top + BOX_H + 90, xNameRows[r][c]);
    txt(yNameX[r][c], top + BOX_H / 2, yNameRows[r][c], Math.PI / 2);
  }
  txt(676, top + BOX_H + 159, '{p|' + captions[r] + '}{k|κ}{s|b}{p|' + captionK[r] + '}{cc|' + captionKind[r] + '}');
}

const chart = echarts.init(document.getElementById('c'), null, {renderer: 'canvas'});
chart.setOption({animation: false, backgroundColor: '#fff', grid: grids, xAxis: xAxes, yAxis: yAxes, series: series, graphic: graphics});
</script>
</body></html>
